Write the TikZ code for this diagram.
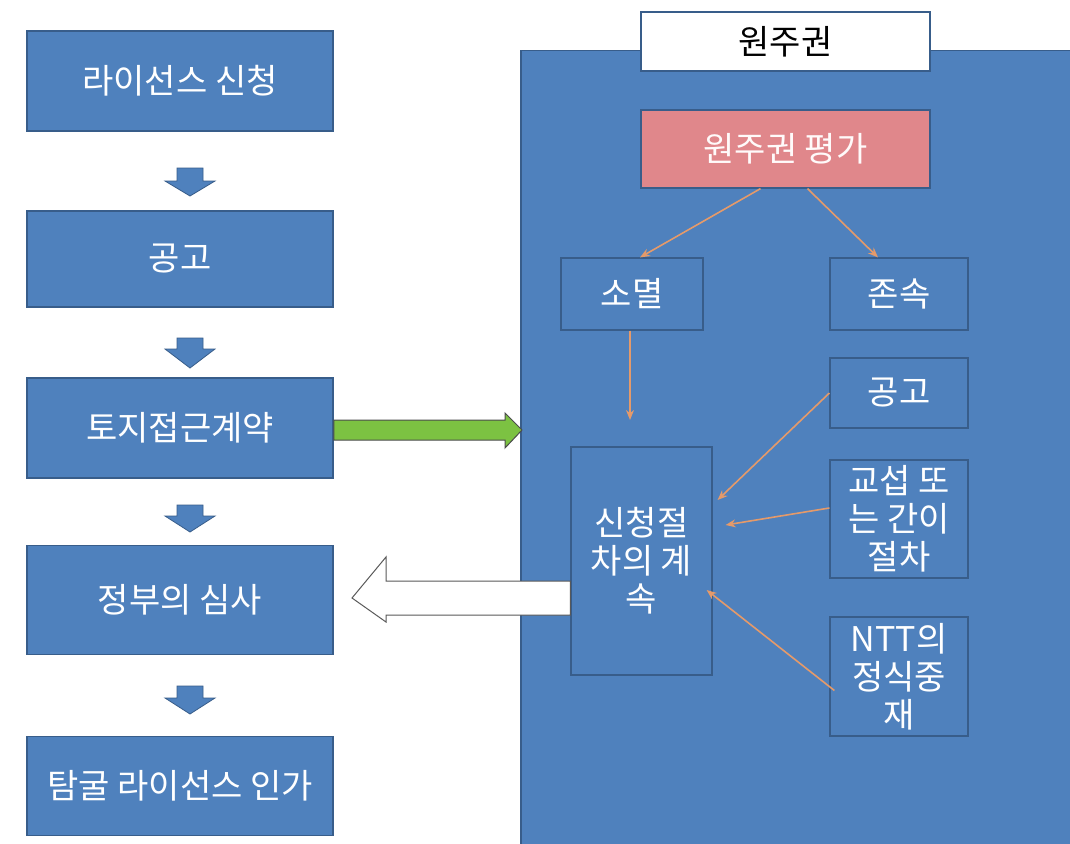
\documentclass[tikz,border=0pt]{standalone}
\usepackage{fontspec}
\setmainfont{Noto Sans CJK KR}
\usetikzlibrary{arrows.meta,shapes.arrows}
\definecolor{boxblue}{HTML}{4F81BD}
\definecolor{edgeblue}{HTML}{385D8A}
\definecolor{pinkbox}{HTML}{E0878B}
\definecolor{linkor}{HTML}{E59A6A}
\definecolor{greenar}{HTML}{7CC242}
\tikzset{
  leftbox/.style={draw=edgeblue, line width=1.5pt, fill=boxblue, text=white, minimum width=306, minimum height=100, font=\fontsize{34}{40}\selectfont, inner sep=0pt},
  subbox/.style={draw=edgeblue, line width=1.2pt, fill=boxblue, text=white, font=\fontsize{34}{38}\selectfont, align=center, inner sep=0pt},
  downar/.style={fill=boxblue, draw=edgeblue, line width=0.8pt},
  link/.style={draw=linkor, line width=1.6pt, -{Stealth[length=10pt,width=8pt]}}
}
\begin{document}
\begin{tikzpicture}[x=1pt,y=-1pt]
\useasboundingbox (0,0) rectangle (1070,843);
\fill[white] (0,0) rectangle (1070,843);
% right big panel
\node[draw=edgeblue, line width=1.5pt, fill=boxblue, minimum width=550, minimum height=800, inner sep=0pt, anchor=north west] (panel) at (520,50) {};
\node[draw=edgeblue, line width=1.3pt, fill=white, minimum width=289, minimum height=59, inner sep=0pt, font=\fontsize{34}{38}\selectfont] (title) at (785.5,41.5) {원주권};
\node[subbox, fill=pinkbox, text=white!92!pink, minimum width=289, minimum height=78] (eval) at (785.5,149) {원주권 평가};
\node[subbox, minimum width=142, minimum height=72] (extinct) at (632,294) {소멸};
\node[subbox, minimum width=138, minimum height=72] (survive) at (899,294) {존속};
\node[subbox, minimum width=138, minimum height=70] (notice2) at (899,393) {공고};
\node[subbox, minimum width=138, minimum height=118] (nego) at (899,519) {교섭 또\\는 간이\\절차};
\node[subbox, minimum width=138, minimum height=119] (ntt) at (899,676.5) {NTT의\\정식중\\재};
\node[subbox, minimum width=141, minimum height=228] (cont) at (641.5,561) {신청절\\차의 계\\속};
\coordinate (extend) at (630,420);
% left column
\node[leftbox] (b1) at (180,81) {라이선스 신청};
\node[leftbox, minimum height=96] (b2) at (180,259) {공고};
\node[leftbox] (b3) at (180,428) {토지접근계약};
\node[leftbox, minimum height=109] (b4) at (180,600) {정부의 심사};
\node[leftbox, minimum height=99] (b5) at (180,786) {탐굴 라이선스 인가};
% down block arrows
\foreach \t/\h/\e in {168/181/196, 338/349/368, 505/516/532, 686/698/714}{
  \draw[downar] (177,\t) -- (203,\t) -- (203,\h) -- (215,\h) -- (190,\e) -- (165,\h) -- (177,\h) -- cycle;
}
% orange connectors
\draw[link] ([xshift=-25]eval.south) -- ([xshift=8]extinct.north);
\draw[link] ([xshift=22]eval.south) -- ([xshift=-21]survive.north);
\draw[link] ([xshift=-2]extinct.south) -- (extend);
\draw[link] (notice2.west) -- ([xshift=5,yshift=61]cont.east);
\draw[link] ([yshift=11]nego.west) -- ([xshift=13,yshift=36]cont.east);
\draw[link] ([xshift=5,yshift=-14]ntt.west) -- ([xshift=-6,yshift=-29]cont.east);
% green arrow from land access contract
\coordinate (gtip) at (522,430);
\draw[draw=black!70, line width=1pt, fill=greenar] (b3.east |- 0,420) -- (505,420) -- (505,413) -- (gtip) -- (505,448) -- (505,440) -- (b3.east |- 0,440) -- cycle;
% white block arrow back to review
\coordinate (wtip) at (352,598);
\draw[draw=black!65, line width=1pt, fill=white] (cont.west |- 0,581) -- (386,581) -- (386,557) -- (wtip) -- (386,622) -- (386,615) -- (cont.west |- 0,615) -- cycle;
\end{tikzpicture}
\end{document}
